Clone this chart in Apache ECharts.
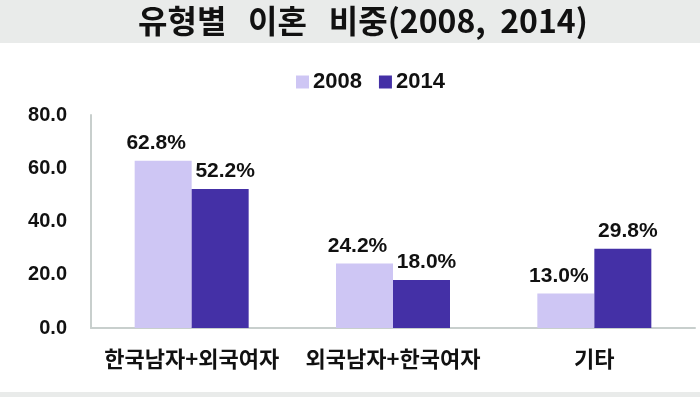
<!DOCTYPE html>
<html>
<head>
<meta charset="utf-8">
<script src="https://cdn.jsdelivr.net/npm/echarts@6/dist/echarts.min.js"></script>
<style>
  html, body { margin: 0; padding: 0; background: #fff; }
  #chart { width: 700px; height: 397px; }
</style>
</head>
<body>
<div id="chart"></div>
<script>
// 유형별 이혼 비중 데이터
var categories = ['한국남자+외국여자', '외국남자+한국여자', '기타']
var seriesNames = ['2008', '2014']
var values2008 = [62.8, 24.2, 13.0]
var values2014 = [52.2, 18.0, 29.8]
var yTicks = { min: 0, max: 80, interval: 20 }

var colors = ['#cec6f4', '#4430a6']
var numFont = '"Liberation Sans", Arial, sans-serif'
var krFont = '"Noto Sans CJK KR", sans-serif'

var myChart = echarts.init(document.getElementById('chart'))

function barSeries (name, data, color, dx) {
  return {
    name: name,
    type: 'bar',
    data: data,
    barWidth: 57,
    barGap: '0%',
    itemStyle: { color: color },
    label: {
      show: true,
      position: 'top',
      distance: 7,
      offset: [dx, 0],
      color: '#111',
      fontFamily: numFont,
      fontWeight: 'bold',
      fontSize: 21,
      formatter: function (p) { return p.value.toFixed(1) + '%' }
    }
  }
}

var options = {
  animation: false,
  color: colors,
  graphic: [
    // 제목 배경 띠
    { type: 'rect', z: -1, shape: { x: 0, y: 0, width: 700, height: 43 }, style: { fill: '#e9ebea' } },
    { type: 'rect', z: -1, shape: { x: 0, y: 392, width: 700, height: 5 }, style: { fill: '#e9ebea' } }
  ],
  title: {
    text: '유형별   이혼   비중(2008,  2014)',
    left: 133,
    top: 0,
    textStyle: {
      fontFamily: krFont,
      fontWeight: 'bold',
      fontSize: 32,
      color: '#111'
    }
  },
  legend: {
    data: seriesNames,
    left: 291,
    top: 66,
    icon: 'rect',
    itemWidth: 13,
    itemHeight: 13,
    itemGap: 17,
    textStyle: {
      fontFamily: numFont,
      fontWeight: 'bold',
      fontSize: 22,
      color: '#111',
      padding: [0, 0, 0, -1]
    }
  },
  grid: {
    left: 91,
    right: 5,
    top: 115,
    bottom: 69
  },
  xAxis: {
    type: 'category',
    data: categories,
    axisLine: { lineStyle: { color: '#c8cfcd', width: 2 } },
    axisTick: { show: false },
    axisLabel: {
      interval: 0,
      margin: 20,
      color: '#111',
      fontFamily: krFont,
      fontWeight: 'bold',
      fontSize: 22
    }
  },
  yAxis: {
    type: 'value',
    min: yTicks.min,
    max: yTicks.max,
    interval: yTicks.interval,
    axisLine: { show: true, lineStyle: { color: '#c8cfcd', width: 2 } },
    axisTick: { show: false },
    splitLine: { show: false },
    axisLabel: {
      margin: 24,
      color: '#111',
      fontFamily: numFont,
      fontWeight: 'bold',
      fontSize: 20,
      formatter: function (v) { return v.toFixed(1) }
    }
  },
  series: [
    barSeries(seriesNames[0], values2008, colors[0], -7),
    barSeries(seriesNames[1], values2014, colors[1], 5)
  ]
}

myChart.setOption(options, true)
</script>
</body>
</html>
